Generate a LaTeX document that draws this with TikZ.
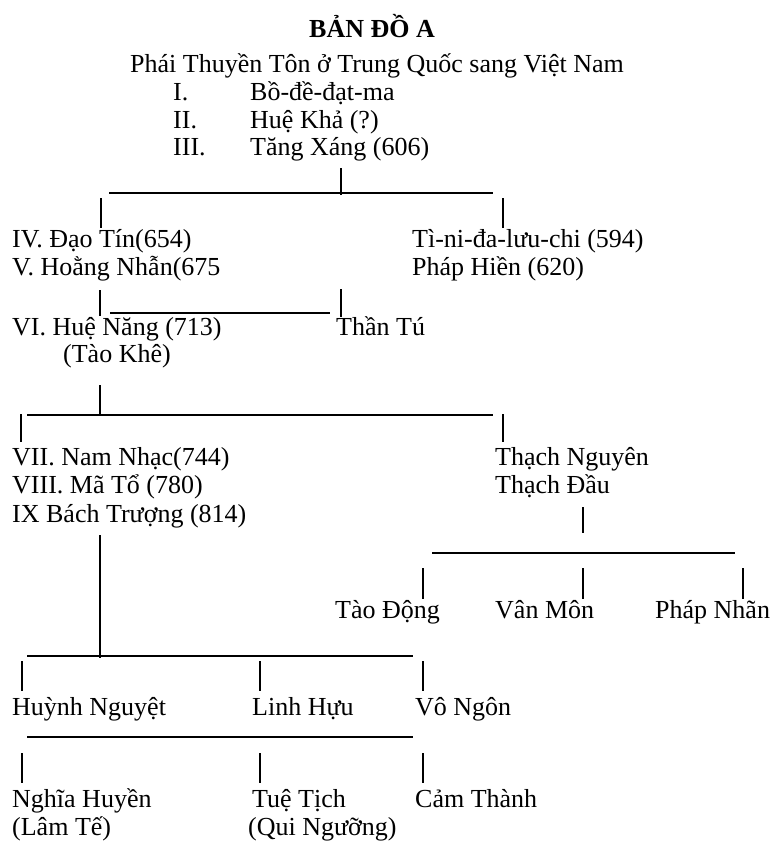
\documentclass[tikz,border=0pt]{standalone}
\usepackage{fontspec}
\setmainfont{Liberation Serif}
\begin{document}
\begin{tikzpicture}[x=1pt,y=-1pt,
  lbl/.style={anchor=base west, inner sep=0pt, font=\fontsize{26}{28}\selectfont},
  ln/.style={line width=1.6pt, line cap=butt}]
\useasboundingbox (0,0) rectangle (775,844);
% ---- header
\node[lbl, anchor=base] (title) at (372,37) {\bfseries BẢN ĐỒ A};
\node[lbl, anchor=base] (sub) at (377,72) {Phái Thuyền Tôn ở Trung Quốc sang Việt Nam};
\node[lbl] (r1) at (173,100) {I.};
\node[lbl] (t1) at (250,100) {Bồ-đề-đạt-ma};
\node[lbl] (r2) at (173,128) {II.};
\node[lbl] (t2) at (250,128) {Huệ Khả (?)};
\node[lbl] (r3) at (173,155) {III.};
\node[lbl] (t3) at (250,155) {Tăng Xáng (606)};
% ---- level IV/V
\node[lbl] (iv) at (12,247) {IV. Đạo Tín(654)};
\node[lbl] (v) at (12,275) {V. Hoằng Nhẫn(675};
\node[lbl] (tini) at (412,247) {Tì-ni-đa-lưu-chi (594)};
\node[lbl] (phhien) at (412,275) {Pháp Hiền (620)};
% ---- level VI
\node[lbl] (vi) at (12,335) {VI. Huệ Năng (713)};
\node[lbl] (taokhe) at (63,362) {(Tào Khê)};
\node[lbl] (thantu) at (336,335) {Thần Tú};
% ---- level VII-IX
\node[lbl] (vii) at (12,465) {VII. Nam Nhạc(744)};
\node[lbl] (viii) at (12,493) {VIII. Mã Tổ (780)};
\node[lbl] (ix) at (12,522) {IX Bách Trượng (814)};
\node[lbl] (thng) at (495,465) {Thạch Nguyên};
\node[lbl] (thdau) at (495,493) {Thạch Đầu};
% ---- right branch
\node[lbl] (taodong) at (335,618) {Tào Động};
\node[lbl] (vanmon) at (495,618) {Vân Môn};
\node[lbl] (phnhan) at (655,618) {Pháp Nhãn};
% ---- lower rows
\node[lbl] (huynh) at (12,715) {Huỳnh Nguyệt};
\node[lbl] (linh) at (252,715) {Linh Hựu};
\node[lbl] (vongon) at (415,715) {Vô Ngôn};
\node[lbl] (nghia) at (12,807) {Nghĩa Huyền};
\node[lbl] (lamte) at (12,835) {(Lâm Tế)};
\node[lbl] (tue) at (252,807) {Tuệ Tịch};
\node[lbl] (qui) at (248,835) {(Qui Ngưỡng)};
\node[lbl] (cam) at (415,807) {Cảm Thành};
% ---- connector coordinates
\coordinate (a0) at (341,168); \coordinate (a1) at (341,195);
\coordinate (b1L) at (109,193); \coordinate (b1R) at (493,193);
\coordinate (c1t) at (101,198); \coordinate (c1b) at (101,228);
\coordinate (c2t) at (503,198); \coordinate (c2b) at (503,228);
\coordinate (d0t) at (100,290); \coordinate (d0b) at (100,316);
\coordinate (d1L) at (110,313); \coordinate (d1R) at (330,313);
\coordinate (d2t) at (341,289); \coordinate (d2b) at (341,317);
\coordinate (e0t) at (100,385); \coordinate (e0b) at (100,415);
\coordinate (e1L) at (27,415); \coordinate (e1R) at (493,415);
\coordinate (e2t) at (21,414); \coordinate (e2b) at (21,442);
\coordinate (e3t) at (503,414); \coordinate (e3b) at (503,442);
\coordinate (f0t) at (583,507); \coordinate (f0b) at (583,533);
\coordinate (f1L) at (432,553); \coordinate (f1R) at (735,553);
\coordinate (f2t) at (423,568); \coordinate (f2b) at (423,599);
\coordinate (f3t) at (583,568); \coordinate (f3b) at (583,599);
\coordinate (f4t) at (743,568); \coordinate (f4b) at (743,599);
\coordinate (g0t) at (100,535); \coordinate (g0b) at (100,658);
\coordinate (g1L) at (27,656); \coordinate (g1R) at (413,656);
\coordinate (g2t) at (22,661); \coordinate (g2b) at (22,691);
\coordinate (g3t) at (260,661); \coordinate (g3b) at (260,691);
\coordinate (g4t) at (423,661); \coordinate (g4b) at (423,691);
\coordinate (h1L) at (27,737); \coordinate (h1R) at (413,737);
\coordinate (h2t) at (22,753); \coordinate (h2b) at (22,783);
\coordinate (h3t) at (260,753); \coordinate (h3b) at (260,783);
\coordinate (h4t) at (423,753); \coordinate (h4b) at (423,783);
% ---- connectors
\draw[ln] (a0) -- (a1);
\draw[ln] (b1L) -- (b1R);
\draw[ln] (c1t) -- (c1b);
\draw[ln] (c2t) -- (c2b);
\draw[ln] (d0t) -- (d0b);
\draw[ln] (d1L) -- (d1R);
\draw[ln] (d2t) -- (d2b);
\draw[ln] (e0t) -- (e0b);
\draw[ln] (e1L) -- (e1R);
\draw[ln] (e2t) -- (e2b);
\draw[ln] (e3t) -- (e3b);
\draw[ln] (f0t) -- (f0b);
\draw[ln] (f1L) -- (f1R);
\draw[ln] (f2t) -- (f2b);
\draw[ln] (f3t) -- (f3b);
\draw[ln] (f4t) -- (f4b);
\draw[ln] (g0t) -- (g0b);
\draw[ln] (g1L) -- (g1R);
\draw[ln] (g2t) -- (g2b);
\draw[ln] (g3t) -- (g3b);
\draw[ln] (g4t) -- (g4b);
\draw[ln] (h1L) -- (h1R);
\draw[ln] (h2t) -- (h2b);
\draw[ln] (h3t) -- (h3b);
\draw[ln] (h4t) -- (h4b);
\end{tikzpicture}
\end{document}
